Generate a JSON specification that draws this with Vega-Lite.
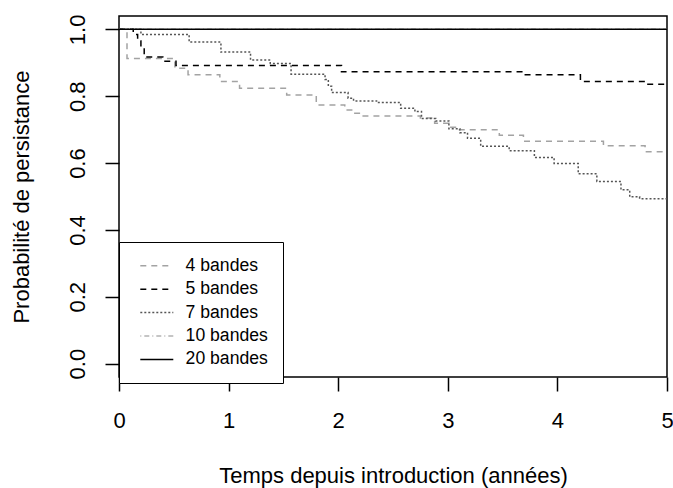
{
  "$schema": "https://vega.github.io/schema/vega-lite/v6.json",
  "width": 548,
  "height": 361,
  "autosize": {"type": "none"},
  "padding": {"left": 119, "top": 16, "right": 6, "bottom": 111},
  "background": "white",
  "config": {
    "font": "Liberation Sans",
    "view": {"stroke": "black", "strokeWidth": 1.5},
    "axis": {"labelColor": "black", "titleColor": "black", "tickColor": "black", "grid": false, "domain": false, "tickSize": 14, "tickWidth": 1.5, "labelFontSize": 22, "titleFontSize": 22, "titleFontWeight": "normal", "labelFont": "Liberation Sans", "titleFont": "Liberation Sans"}
  },
  "data": {"values": [
    {"g": "4 bandes", "t": 0, "s": 1},
    {"g": "4 bandes", "t": 0.073, "s": 0.913},
    {"g": "4 bandes", "t": 0.51, "s": 0.884},
    {"g": "4 bandes", "t": 0.63, "s": 0.864},
    {"g": "4 bandes", "t": 0.92, "s": 0.844},
    {"g": "4 bandes", "t": 1.1, "s": 0.824},
    {"g": "4 bandes", "t": 1.53, "s": 0.804},
    {"g": "4 bandes", "t": 1.8, "s": 0.774},
    {"g": "4 bandes", "t": 2.06, "s": 0.759},
    {"g": "4 bandes", "t": 2.13, "s": 0.749},
    {"g": "4 bandes", "t": 2.2, "s": 0.741},
    {"g": "4 bandes", "t": 2.75, "s": 0.735},
    {"g": "4 bandes", "t": 2.88, "s": 0.719},
    {"g": "4 bandes", "t": 3.01, "s": 0.707},
    {"g": "4 bandes", "t": 3.07, "s": 0.7},
    {"g": "4 bandes", "t": 3.47, "s": 0.683},
    {"g": "4 bandes", "t": 3.69, "s": 0.665},
    {"g": "4 bandes", "t": 4.42, "s": 0.652},
    {"g": "4 bandes", "t": 4.8, "s": 0.634},
    {"g": "4 bandes", "t": 5, "s": 0.634},
    {"g": "5 bandes", "t": 0, "s": 1},
    {"g": "5 bandes", "t": 0.13, "s": 0.985},
    {"g": "5 bandes", "t": 0.17, "s": 0.965},
    {"g": "5 bandes", "t": 0.2, "s": 0.945},
    {"g": "5 bandes", "t": 0.23, "s": 0.917},
    {"g": "5 bandes", "t": 0.4, "s": 0.905},
    {"g": "5 bandes", "t": 0.52, "s": 0.892},
    {"g": "5 bandes", "t": 2.03, "s": 0.873},
    {"g": "5 bandes", "t": 3.69, "s": 0.864},
    {"g": "5 bandes", "t": 4.21, "s": 0.844},
    {"g": "5 bandes", "t": 4.81, "s": 0.836},
    {"g": "5 bandes", "t": 5, "s": 0.836},
    {"g": "7 bandes", "t": 0, "s": 1},
    {"g": "7 bandes", "t": 0.2, "s": 0.985},
    {"g": "7 bandes", "t": 0.64, "s": 0.962},
    {"g": "7 bandes", "t": 0.93, "s": 0.932},
    {"g": "7 bandes", "t": 1.2, "s": 0.908},
    {"g": "7 bandes", "t": 1.38, "s": 0.898},
    {"g": "7 bandes", "t": 1.57, "s": 0.866},
    {"g": "7 bandes", "t": 1.88, "s": 0.85},
    {"g": "7 bandes", "t": 1.91, "s": 0.83},
    {"g": "7 bandes", "t": 1.94, "s": 0.811},
    {"g": "7 bandes", "t": 2.09, "s": 0.794},
    {"g": "7 bandes", "t": 2.14, "s": 0.786},
    {"g": "7 bandes", "t": 2.35, "s": 0.781},
    {"g": "7 bandes", "t": 2.57, "s": 0.764},
    {"g": "7 bandes", "t": 2.7, "s": 0.754},
    {"g": "7 bandes", "t": 2.76, "s": 0.733},
    {"g": "7 bandes", "t": 2.89, "s": 0.726},
    {"g": "7 bandes", "t": 3.01, "s": 0.703},
    {"g": "7 bandes", "t": 3.11, "s": 0.691},
    {"g": "7 bandes", "t": 3.18, "s": 0.674},
    {"g": "7 bandes", "t": 3.3, "s": 0.65},
    {"g": "7 bandes", "t": 3.56, "s": 0.637},
    {"g": "7 bandes", "t": 3.79, "s": 0.617},
    {"g": "7 bandes", "t": 3.97, "s": 0.599},
    {"g": "7 bandes", "t": 4.19, "s": 0.568},
    {"g": "7 bandes", "t": 4.36, "s": 0.545},
    {"g": "7 bandes", "t": 4.58, "s": 0.52},
    {"g": "7 bandes", "t": 4.66, "s": 0.499},
    {"g": "7 bandes", "t": 4.75, "s": 0.493},
    {"g": "7 bandes", "t": 5, "s": 0.493},
    {"g": "10 bandes", "t": 0, "s": 1},
    {"g": "10 bandes", "t": 5, "s": 1},
    {"g": "20 bandes", "t": 0, "s": 1},
    {"g": "20 bandes", "t": 5, "s": 1}
  ]},
  "encoding": {
    "x": {"field": "t", "type": "quantitative", "scale": {"domain": [0, 5], "nice": false, "zero": false},
      "axis": {"values": [0, 1, 2, 3, 4, 5], "format": "d", "labelPadding": 29, "labelBaseline": "middle", "labelAlign": "center", "title": "Temps depuis introduction (années)", "titleX": 274, "titleY": 98, "titleBaseline": "middle", "titleAlign": "center"}},
    "y": {"field": "s", "type": "quantitative", "scale": {"domain": [-0.04, 1.04], "nice": false, "zero": false},
      "axis": {"values": [0, 0.2, 0.4, 0.6, 0.8, 1], "format": ".1f", "labelAngle": -90, "labelAlign": "center", "labelBaseline": "middle", "labelPadding": 28, "title": "Probabilité de persistance", "titleX": -98, "titleY": 180.5, "titleAngle": -90, "titleAlign": "center", "titleBaseline": "middle"}},
    "color": {"field": "g", "type": "nominal", "title": null,
      "scale": {"domain": ["4 bandes", "5 bandes", "7 bandes", "10 bandes", "20 bandes"], "range": ["#a3a3a3", "#000000", "#555555", "#b3b3b3", "#000000"]},
      "legend": {"orient": "none", "legendX": 0, "legendY": 226, "symbolType": "M-3,0H3", "symbolSize": 121, "symbolOffset": 14, "symbolStrokeWidth": 1.5, "labelFontSize": 17.6, "labelColor": "black", "labelOffset": 20, "rowPadding": 4.4, "padding": 15, "strokeColor": "black", "fillColor": "white"}},
    "strokeDash": {"field": "g", "type": "nominal", "title": null,
      "scale": {"domain": ["4 bandes", "5 bandes", "7 bandes", "10 bandes", "20 bandes"], "range": [[6, 5], [6, 5], [2, 2], [1, 3, 5, 3], [1, 0]]},
      "legend": {"orient": "none", "legendX": 0, "legendY": 226, "symbolType": "M-3,0H3", "symbolSize": 121, "symbolOffset": 14, "symbolStrokeWidth": 1.5, "labelFontSize": 17.6, "labelColor": "black", "labelOffset": 20, "rowPadding": 4.4, "padding": 15, "strokeColor": "black", "fillColor": "white"}}
  },
  "layer": [
    {"transform": [{"filter": "datum.g != '20 bandes'"}], "mark": {"type": "line", "interpolate": "step-after", "strokeWidth": 1.5, "clip": true}},
    {"transform": [{"filter": "datum.g == '20 bandes'"}], "mark": {"type": "line", "interpolate": "step-after", "strokeWidth": 1.5, "clip": true}}
  ]
}
